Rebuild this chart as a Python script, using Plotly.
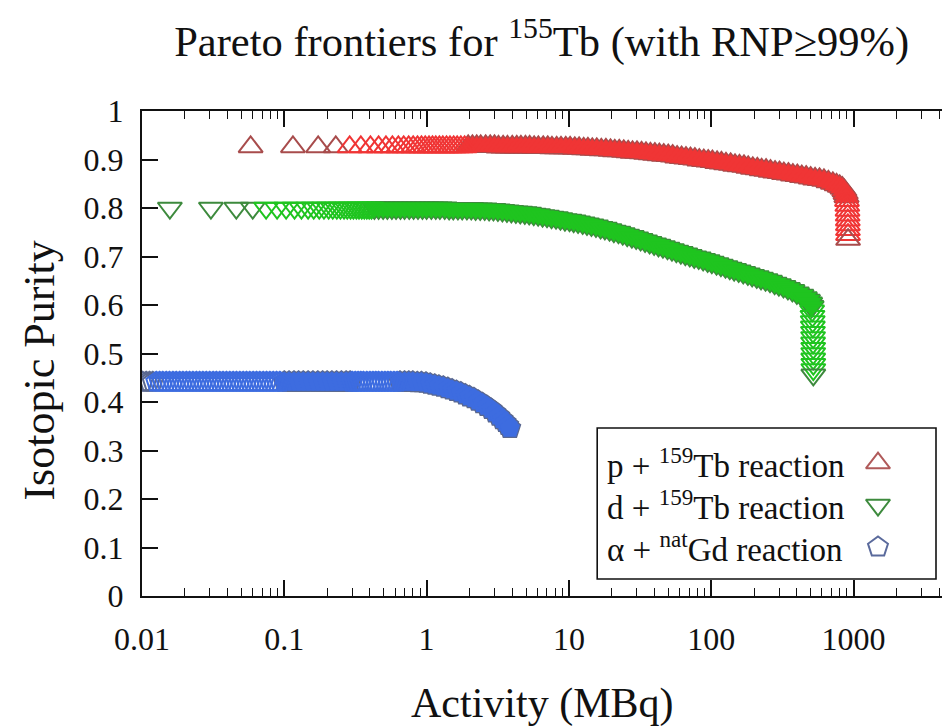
import plotly.graph_objects as go

# ---------------- data: activity (MBq) vs isotopic purity ----------------
# p + 159Tb reaction
p_sparse_act = [0.058, 0.115, 0.173, 0.230, 0.288, 0.345, 0.403, 0.460, 0.518, 0.575,
                0.633, 0.690, 0.748, 0.805, 0.863, 0.920, 0.978, 1.04, 1.10, 1.16,
                1.23, 1.30, 1.38, 1.46, 1.55, 1.64, 1.74, 1.85]
p_sparse_pur = [0.926] * 28
p_dense_act = [1.96, 2.1, 2.25, 2.4, 2.6, 2.8, 3.0, 3.2, 3.45, 3.7,
               4.0, 4.3, 4.6, 4.95, 5.3, 5.7, 6.1, 6.6, 7.1, 7.6,
               8.2, 8.8, 9.5, 10.2, 11, 11.8, 12.7, 13.6, 14.6, 15.7,
               16.9, 18.2, 19.6, 21, 22.6, 24.3, 26.1, 28, 30.1, 32.4,
               34.8, 37.4, 40.2, 43.2, 46.4, 49.9, 53.6, 57.6, 61.9, 66.5,
               71.5, 76.8, 82.5, 88.7, 95.3, 102, 110, 118, 127, 137,
               147, 158, 170, 182, 196, 211, 226, 243, 261, 281,
               302, 324, 349, 375, 403, 433, 465, 500, 537, 577,
               620, 666, 716, 760, 800, 835, 862, 880, 893]
p_dense_pur = [0.927, 0.927, 0.927, 0.927, 0.927, 0.927, 0.927, 0.926, 0.926, 0.926,
               0.926, 0.926, 0.926, 0.926, 0.926, 0.925, 0.925, 0.925, 0.925, 0.924,
               0.924, 0.924, 0.924, 0.924, 0.923, 0.923, 0.922, 0.922, 0.921, 0.921,
               0.920, 0.920, 0.919, 0.918, 0.918, 0.917, 0.916, 0.915, 0.915, 0.914,
               0.913, 0.912, 0.911, 0.910, 0.909, 0.908, 0.907, 0.905, 0.904, 0.903,
               0.902, 0.901, 0.899, 0.898, 0.897, 0.896, 0.894, 0.893, 0.891, 0.890,
               0.888, 0.887, 0.886, 0.884, 0.882, 0.881, 0.879, 0.878, 0.876, 0.874,
               0.873, 0.871, 0.870, 0.868, 0.867, 0.865, 0.864, 0.862, 0.860, 0.859,
               0.857, 0.854, 0.851, 0.848, 0.845, 0.841, 0.836, 0.830, 0.823]
p_tail_act = [900, 905, 908, 910, 912, 913, 914, 915, 916]
p_tail_pur = [0.815, 0.805, 0.795, 0.785, 0.775, 0.765, 0.755, 0.745, 0.735]

# d + 159Tb reaction
d_sparse_act = [0.0157, 0.0305, 0.046, 0.060, 0.0745, 0.089, 0.103, 0.118, 0.132, 0.147,
                0.161, 0.176, 0.190, 0.205, 0.219, 0.234, 0.248, 0.263, 0.277, 0.292,
                0.306, 0.321, 0.335, 0.35, 0.365, 0.38, 0.395, 0.41]
d_sparse_pur = [0.800] * 28
d_dense_act = [0.43, 0.46, 0.495, 0.53, 0.57, 0.61, 0.655, 0.70, 0.755, 0.81,
               0.87, 0.935, 1.0, 1.08, 1.16, 1.24, 1.34, 1.44, 1.54, 1.66,
               1.78, 1.92, 2.06, 2.21, 2.38, 2.56, 2.75, 2.95, 3.17, 3.41,
               3.67, 3.94, 4.24, 4.55, 4.9, 5.26, 5.66, 6.08, 6.53, 7.02,
               7.55, 8.12, 8.72, 9.38, 10.1, 10.8, 11.6, 12.5, 13.4, 14.4,
               15.5, 16.7, 17.9, 19.3, 20.7, 22.3, 23.9, 25.7, 27.7, 29.7,
               31.9, 34.3, 36.9, 39.7, 42.6, 45.8, 49.3, 53, 56.9, 61.2,
               65.8, 70.7, 76, 81.7, 87.8, 94.4, 101, 109, 117, 126,
               135, 145, 156, 168, 181, 194, 209, 224, 241, 259,
               279, 299, 322, 346, 372, 400, 430, 455, 478, 495, 507]
d_dense_pur = [0.800, 0.800, 0.800, 0.800, 0.800, 0.800, 0.800, 0.800, 0.800, 0.800,
               0.800, 0.800, 0.800, 0.800, 0.800, 0.800, 0.800, 0.799, 0.799, 0.799,
               0.799, 0.799, 0.799, 0.798, 0.798, 0.798, 0.797, 0.797, 0.796, 0.795,
               0.794, 0.793, 0.792, 0.791, 0.790, 0.789, 0.787, 0.786, 0.784, 0.783,
               0.781, 0.780, 0.778, 0.776, 0.775, 0.773, 0.771, 0.769, 0.767, 0.765,
               0.763, 0.760, 0.758, 0.755, 0.752, 0.750, 0.747, 0.744, 0.741, 0.738,
               0.735, 0.732, 0.729, 0.726, 0.723, 0.720, 0.717, 0.714, 0.711, 0.708,
               0.705, 0.702, 0.699, 0.697, 0.694, 0.691, 0.688, 0.685, 0.682, 0.679,
               0.676, 0.673, 0.670, 0.667, 0.664, 0.661, 0.658, 0.655, 0.652, 0.649,
               0.645, 0.642, 0.638, 0.634, 0.630, 0.625, 0.620, 0.615, 0.610, 0.604, 0.597]
d_tail_act = [512, 515, 517, 518, 519, 520, 520, 521, 521, 521, 522, 522, 522]
d_tail_pur = [0.588, 0.577, 0.566, 0.555, 0.544, 0.533, 0.522, 0.511, 0.500, 0.489,
              0.478, 0.467, 0.456]

# alpha + natGd reaction
a_sparse_act = [0.0101, 0.0107, 0.0113, 0.0119, 0.0126, 0.0133, 0.014, 0.0148, 0.0156, 0.0165,
                0.0174, 0.0184, 0.0194, 0.0205, 0.0216, 0.0228, 0.0241, 0.0254, 0.0268, 0.0283,
                0.0299, 0.0316, 0.0333, 0.0352, 0.0371, 0.0392, 0.0414, 0.0437, 0.0461, 0.0487,
                0.0514, 0.0542, 0.0572, 0.0604, 0.0638, 0.0673, 0.0711, 0.075, 0.0792, 0.0836,
                0.0882, 0.0931,
                0.30, 0.315, 0.33, 0.345, 0.36, 0.38, 0.40, 0.42, 0.44, 0.46,
                0.485, 0.51, 0.535, 0.56, 0.59, 0.62]
a_sparse_pur = [0.441] * 58
a_dense_act = [0.10, 0.108, 0.117, 0.126, 0.136, 0.147, 0.159, 0.172, 0.186, 0.20,
               0.216, 0.233, 0.252, 0.272, 0.29,
               0.65, 0.70, 0.75, 0.80, 0.86, 0.92, 0.99, 1.06, 1.14, 1.22,
               1.31, 1.41, 1.51, 1.62, 1.74, 1.87, 2.0, 2.15, 2.3, 2.47,
               2.65, 2.84, 3.03, 3.22, 3.4, 3.57, 3.72, 3.85]
a_dense_pur = [0.441, 0.441, 0.441, 0.441, 0.441, 0.441, 0.441, 0.441, 0.441, 0.441,
               0.441, 0.441, 0.441, 0.441, 0.441,
               0.441, 0.441, 0.441, 0.441, 0.440, 0.440, 0.439, 0.437, 0.435, 0.433,
               0.431, 0.428, 0.425, 0.422, 0.419, 0.415, 0.411, 0.407, 0.402, 0.397,
               0.391, 0.385, 0.378, 0.371, 0.364, 0.358, 0.352, 0.346]

legend_labels = ["p + <sup>159</sup>Tb reaction",
                 "d + <sup>159</sup>Tb reaction",
                 "\u03b1 + <sup>nat</sup>Gd reaction"]

x_tickvals = [0.01, 0.1, 1, 10, 100, 1000]
x_ticktext = ["0.01", "0.1", "1", "10", "100", "1000"]
y_tickvals = [0, 0.1, 0.2, 0.3, 0.4, 0.5, 0.6, 0.7, 0.8, 0.9, 1]

# ---------------- styling ----------------
FONT = "Liberation Serif, Times New Roman, Times, serif"
INK = "#111111"
series = [
    # name, symbol, bright, dark, size, data groups
    ("alpha", "pentagon", "#3d6ce0", "#5a6890", 21,
     a_sparse_act, a_sparse_pur, a_dense_act, a_dense_pur, [], []),
    ("d", "triangle-down", "#1fc41f", "#3d8a3d", 21,
     d_sparse_act, d_sparse_pur, d_dense_act, d_dense_pur, d_tail_act, d_tail_pur),
    ("p", "triangle-up", "#f03535", "#a84c4c", 21,
     p_sparse_act, p_sparse_pur, p_dense_act, p_dense_pur, p_tail_act, p_tail_pur),
]

fig = go.Figure()

for name, sym, bright, dark, size, sx, sy, dx, dy, tx, ty in series:
    # solid band: a darker rim underneath, bright fill on top
    fig.add_trace(go.Scatter(x=dx, y=dy, mode="markers", showlegend=False, hoverinfo="skip",
                             marker=dict(symbol=sym, size=size, color=dark,
                                         line=dict(color=dark, width=2.5))))
    fig.add_trace(go.Scatter(x=dx, y=dy, mode="markers", showlegend=False,
                             marker=dict(symbol=sym, size=size, color=bright,
                                         line=dict(width=0))))
    # individual open points at the low-activity end
    sc = [dark if i < 4 else bright for i in range(len(sx))]
    fig.add_trace(go.Scatter(x=sx, y=sy, mode="markers", showlegend=False,
                             marker=dict(symbol=sym + "-open", size=size, color=sc,
                                         line=dict(width=2))))
    if tx:
        tc = [bright] * (len(tx) - 1) + [dark]
        fig.add_trace(go.Scatter(x=tx, y=ty, mode="markers", showlegend=False,
                                 marker=dict(symbol=sym + "-open", size=size, color=tc,
                                             line=dict(width=2))))

# legend key markers on a unit overlay frame
key_rows = [0.274, 0.1876, 0.101]
key_style = [("triangle-up-open", "#b05a5a"), ("triangle-down-open", "#3d8a3d"),
             ("pentagon-open", "#5a6a9c")]
for row, (sym, col) in zip(key_rows, key_style):
    fig.add_trace(go.Scatter(x=[0.92], y=[row], xaxis="x2", yaxis="y3", mode="markers",
                             showlegend=False, hoverinfo="skip",
                             marker=dict(symbol=sym, size=21, color=col, line=dict(width=2))))

annotations = [
    dict(text="Activity (MBq)", x=0.5, y=-0.222, xref="paper", yref="paper",
         showarrow=False, font=dict(family=FONT, size=42, color=INK),
         xanchor="center", yanchor="middle"),
    dict(text="Isotopic Purity", x=-0.128, y=0.464, xref="paper", yref="paper",
         showarrow=False, textangle=-90, font=dict(family=FONT, size=44, color=INK),
         xanchor="center", yanchor="middle"),
]
for row, lab in zip(key_rows, legend_labels):
    annotations.append(dict(text=lab, x=0.579, y=row, xref="paper", yref="paper",
                            showarrow=False, font=dict(family=FONT, size=33, color=INK),
                            xanchor="left", yanchor="middle"))

minor_vals = [m * 10 ** e for e in range(-2, 4) for m in range(2, 10)]

fig.update_layout(
    width=942, height=726,
    margin=dict(l=142, r=0, t=111, b=130),
    paper_bgcolor="white", plot_bgcolor="white",
    font=dict(family=FONT, color=INK),
    title=dict(text="Pareto frontiers for <sup>155</sup>Tb (with RNP\u226599%)",
               x=0.575, xanchor="center", y=0.943, yanchor="middle", yref="container",
               font=dict(family=FONT, size=42.5, color=INK)),
    xaxis=dict(type="log", range=[-2, -2 + 800 / 142.3], tickvals=x_tickvals,
               ticktext=x_ticktext, ticks="inside", ticklen=16, tickwidth=1.6,
               tickcolor=INK, showline=True, linecolor=INK, linewidth=2,
               mirror="ticks", showgrid=False, zeroline=False,
               tickfont=dict(family=FONT, size=32, color=INK), ticklabelstandoff=14,
               minor=dict(tickvals=minor_vals, ticks="inside", ticklen=8,
                          tickwidth=1.4, tickcolor=INK, showgrid=False)),
    yaxis=dict(range=[0, 1], tickvals=y_tickvals, ticks="inside", ticklen=16,
               tickwidth=1.6, tickcolor=INK, showline=True, linecolor=INK,
               linewidth=2, mirror=False, showgrid=False, zeroline=False,
               tickfont=dict(family=FONT, size=32, color=INK), ticklabelstandoff=10),
    yaxis2=dict(overlaying="y", side="right", range=[0, 1], tickvals=y_tickvals,
                ticks="inside", ticklen=6, tickwidth=1.6, tickcolor=INK,
                showticklabels=False, showline=False, showgrid=False, zeroline=False),
    xaxis2=dict(overlaying="x", range=[0, 1], visible=False),
    yaxis3=dict(overlaying="y", range=[0, 1], visible=False),
    shapes=[dict(type="rect", xref="paper", yref="paper", x0=0.569, x1=0.9925,
                 y0=0.035, y1=0.3464, line=dict(color=INK, width=1.6),
                 fillcolor="rgba(0,0,0,0)", layer="below")],
    annotations=annotations,
)

fig.write_html("out.html")
